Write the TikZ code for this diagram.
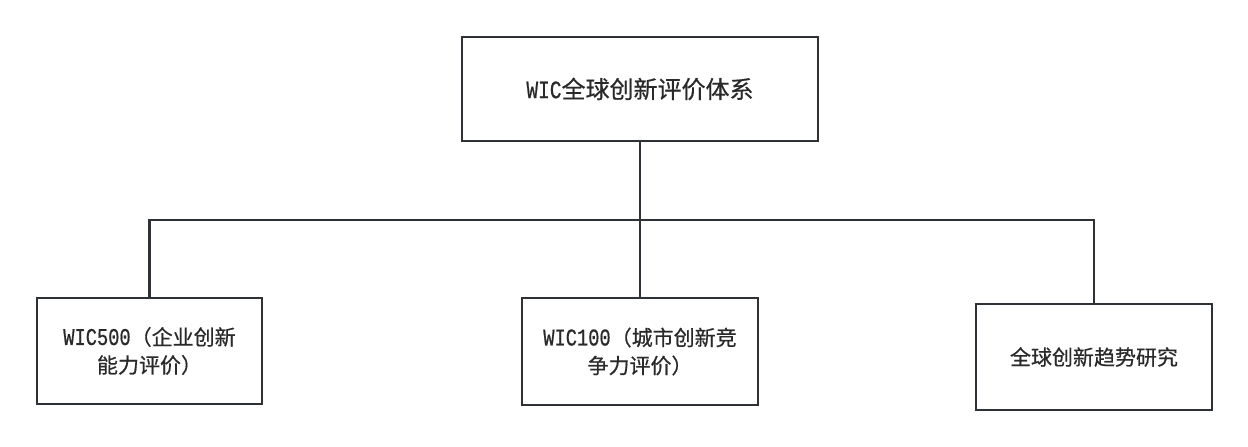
\documentclass[tikz,border=0pt]{standalone}
\usepackage{fontspec}
\newfontfamily\cjk[FakeBold=0.6]{Noto Sans CJK SC}
\newfontfamily\lmono[FakeStretch=0.78,FakeBold=0.6]{Liberation Mono}
\definecolor{edge}{HTML}{2E3135}
\definecolor{txt}{HTML}{2A2A2A}
\tikzset{
  boxnode/.style={draw=edge, line width=2.8pt, fill=white, inner sep=0pt, align=center, text=txt, font=\cjk\fontsize{21}{28}\selectfont},
  link/.style={draw=edge, line width=2.8pt}
}
\begin{document}
\begin{tikzpicture}[x=1pt,y=-1pt]
\useasboundingbox (0,0) rectangle (1248,447);
\node[boxnode, minimum width=356pt, minimum height=104pt, font=\cjk\fontsize{24}{28}\selectfont] (top) at (640,89) {{\lmono\fontsize{25}{28}\selectfont WIC}全球创新评价体系};
\node[boxnode, minimum width=225pt, minimum height=106pt] (left) at (149.5,351) {{\lmono\fontsize{24}{28}\selectfont WIC500}（企业创新\\能力评价）};
\node[boxnode, minimum width=236pt, minimum height=107pt] (mid) at (640,351.5) {{\lmono\fontsize{24}{28}\selectfont WIC100}（城市创新竞\\争力评价）};
\node[boxnode, minimum width=236pt, minimum height=106pt] (right) at (1094,357) {全球创新趋势研究};
\coordinate (barL) at (149.5,220);
\coordinate (barR) at (1094,220);
\draw[link] (top.south) -- (mid.north);
\draw[link] (left.north) -- (barL) -- (barR) -- (right.north);
\end{tikzpicture}
\end{document}
